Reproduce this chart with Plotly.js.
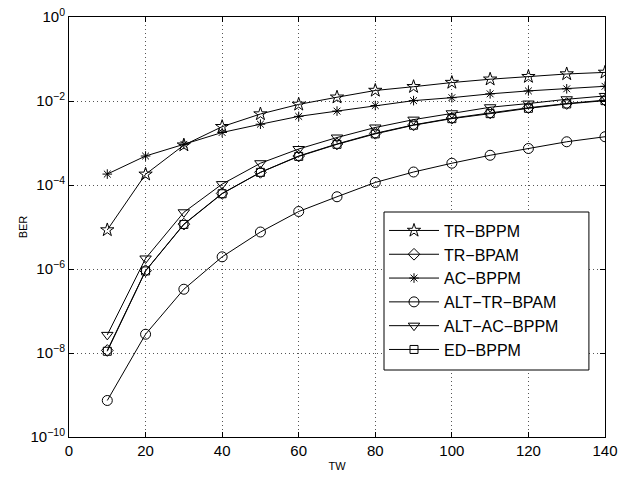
<!DOCTYPE html>
<html>
<head>
<meta charset="utf-8">
<script src="https://cdn.plot.ly/plotly-3.0.1.min.js"></script>
<style>html,body{margin:0;padding:0;background:#fff;}#chart{width:620px;height:478px;}</style>
</head>
<body>
<div id="chart"></div>
<script>
const tw = [10, 20, 30, 40, 50, 60, 70, 80, 90, 100, 110, 120, 130, 140];
const trBPPM = [8.5e-6, 1.8e-4, 8.9e-4, 2.45e-3, 4.9e-3, 8.3e-3, 1.23e-2, 1.78e-2, 2.19e-2, 2.75e-2, 3.3e-2, 3.8e-2, 4.4e-2, 4.8e-2];
const trBPAM = [1.15e-8, 9.1e-7, 1.17e-5, 6.3e-5, 2.0e-4, 4.9e-4, 9.5e-4, 1.7e-3, 2.7e-3, 3.9e-3, 5.2e-3, 6.9e-3, 8.7e-3, 1.05e-2];
const acBPPM = [1.82e-4, 4.9e-4, 9.3e-4, 1.78e-3, 2.8e-3, 4.3e-3, 5.75e-3, 7.8e-3, 1.02e-2, 1.2e-2, 1.48e-2, 1.74e-2, 1.95e-2, 2.24e-2];
const altTrBPAM = [7.4e-10, 2.8e-8, 3.3e-7, 1.95e-6, 7.6e-6, 2.34e-5, 5.25e-5, 1.15e-4, 2.04e-4, 3.3e-4, 5.1e-4, 7.4e-4, 1.07e-3, 1.41e-3];
const altAcBPPM = [2.7e-8, 1.78e-6, 2.24e-5, 1.05e-4, 3.3e-4, 7.2e-4, 1.35e-3, 2.34e-3, 3.6e-3, 5.1e-3, 7.1e-3, 8.7e-3, 1.1e-2, 1.32e-2];
const edBPPM = [1.1e-8, 9.0e-7, 1.15e-5, 6.2e-5, 2.0e-4, 4.8e-4, 9.3e-4, 1.65e-3, 2.65e-3, 3.8e-3, 5.0e-3, 6.7e-3, 8.5e-3, 1.02e-2];
const names = ['TR\u2212BPPM', 'TR\u2212BPAM', 'AC\u2212BPPM', 'ALT\u2212TR\u2212BPAM', 'ALT\u2212AC\u2212BPPM', 'ED\u2212BPPM'];
const yTickVals = [1e-10, 1e-8, 1e-6, 1e-4, 1e-2, 1];
const yTickText = ['10<sup>\u221210</sup>', '10<sup>\u22128</sup>', '10<sup>\u22126</sup>', '10<sup>\u22124</sup>', '10<sup>\u22122</sup>', '10<sup>0</sup>'];
const xTickVals = [0, 20, 40, 60, 80, 100, 120, 140];

const series = [trBPPM, trBPAM, acBPPM, altTrBPAM, altAcBPPM, edBPPM];
const symbols = ['star-open', 'diamond-open', 'asterisk-open', 'circle-open', 'triangle-down-open', 'square-open'];
const sizes = [10, 9, 8, 10, 10, 8];

const traces = series.map((y, i) => ({
  x: tw, y: y, name: names[i], type: 'scatter', mode: 'lines+markers',
  line: {color: '#000', width: 1},
  marker: {symbol: symbols[i], size: sizes[i], color: '#000', line: {color: '#000', width: 1}}
}));

const fam = 'Liberation Sans, Arial, sans-serif';
const axisFont = {family: fam, size: 15, color: '#000'};
const layout = {
  width: 620, height: 478,
  margin: {l: 69, r: 15, t: 17, b: 41},
  paper_bgcolor: '#fff', plot_bgcolor: '#fff',
  showlegend: true,
  font: axisFont,
  xaxis: {
    range: [0, 140], tickmode: 'array', tickvals: xTickVals,
    showline: true, mirror: 'ticks', linecolor: '#000', linewidth: 1,
    ticks: 'inside', ticklen: 5, tickcolor: '#000',
    showgrid: true, gridcolor: '#555', griddash: '1px,3px', gridwidth: 1,
    zeroline: false, tickfont: axisFont,
    title: {text: 'TW', font: {family: fam, size: 11, color: '#000'}, standoff: 4}
  },
  yaxis: {
    type: 'log', range: [-10, 0], tickmode: 'array', tickvals: yTickVals, ticktext: yTickText,
    showline: true, mirror: 'ticks', linecolor: '#000', linewidth: 1,
    ticks: 'inside', ticklen: 5, tickcolor: '#000',
    showgrid: true, gridcolor: '#555', griddash: '1px,3px', gridwidth: 1,
    zeroline: false, tickfont: axisFont, automargin: false,
    title: {text: 'BER', font: {family: fam, size: 11, color: '#000'}, standoff: 0}
  },
  shapes: [{
    type: 'rect', xref: 'paper', yref: 'paper',
    x0: 0.5877, x1: 0.970, y0: 0.1595, y1: 0.5357,
    line: {color: '#000', width: 1}, fillcolor: '#fff', layer: 'above'
  }],
  legend: {
    x: 0.5877, y: 0.532, xanchor: 'left', yanchor: 'top',
    bgcolor: 'rgba(0,0,0,0)', borderwidth: 0,
    font: {family: fam, size: 16, color: '#000'},
    itemwidth: 50,
    tracegroupgap: 0
  }
};
Plotly.newPlot('chart', traces, layout, {displayModeBar: false, staticPlot: true});
</script>
</body>
</html>
